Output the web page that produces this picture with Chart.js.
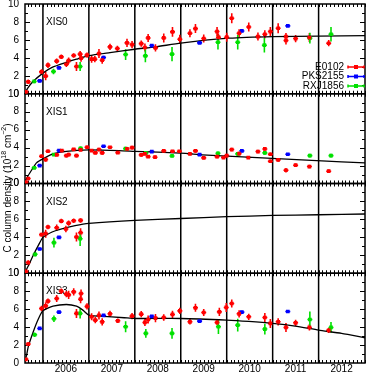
<!DOCTYPE html>
<html><head><meta charset="utf-8">
<script src="https://cdn.jsdelivr.net/npm/chart.js@4/dist/chart.umd.min.js"></script>
<style>html,body{margin:0;padding:0;background:#fff}</style>
</head><body>
<canvas id="c" width="369" height="373"></canvas>
<script>
// ---------- data ----------
const panelNames = ['XIS0', 'XIS1', 'XIS2', 'XIS3'];
const seriesNames = ['E0102', 'PKS2155', 'RXJ1856'];
const seriesColors = ['#ff0000', '#0000ff', '#00e000'];
const yearLabels = ['2006', '2007', '2008', '2009', '2010', '2011', '2012'];
const yearBoundaries = [2006, 2007, 2008, 2009, 2010, 2011, 2012];
const yTicks = [0, 2, 4, 6, 8, 10];
const yTitleParts = ['C column density (10', '18', ' cm', '\u22122', ')'];

// [time (yr), C column density, error]
const E0102_XIS0 = [[2005.63,0.2,0.2],[2005.68,1.33,0.25],[2005.97,2.44,0.3],[2006.06,1.96,0.45],[2006.11,3.18,0.3],[2006.30,3.63,0.3],[2006.40,4.11,0.25],[2006.51,3.29,0.3],[2006.56,3.70,0.35],[2006.67,4.26,0.25],[2006.73,3.04,0.5],[2006.81,4.41,0.35],[2006.83,3.96,0.4],[2006.96,4.30,0.3],[2007.06,3.85,0.4],[2007.13,3.85,0.35],[2007.22,4.48,0.5],[2007.29,3.74,0.4],[2007.46,5.22,0.35],[2007.62,5.04,0.3],[2007.83,5.67,0.45],[2007.94,5.48,0.4],[2008.14,5.59,0.35],[2008.22,5.15,0.45],[2008.29,6.22,0.45],[2008.45,5.11,0.4],[2008.63,6.22,0.5],[2008.82,6.89,0.55],[2008.98,6.07,0.5],[2009.20,6.74,0.45],[2009.32,7.26,0.5],[2009.50,6.15,0.45],[2009.79,6.93,0.5],[2009.82,6.30,0.4],[2010.00,6.30,0.5],[2010.11,8.41,0.55],[2010.27,6.74,0.45],[2010.48,7.44,0.5],[2010.68,6.37,0.45],[2010.83,6.63,0.45],[2010.95,6.93,0.5],[2011.12,7.30,0.55],[2011.29,5.93,0.45],[2011.29,6.37,0.4],[2011.50,6.15,0.4],[2011.80,6.26,0.5],[2012.22,5.63,0.35]];
const PKS2155_XIS0 = [[2005.93,1.44,0.15],[2006.35,2.89,0.15],[2007.32,4.04,0.2],[2008.37,5.37,0.15],[2009.41,5.67,0.12],[2010.33,7.00,0.15],[2011.33,7.56,0.12]];
const RXJ1856_XIS0 = [[2005.81,1.37,0.2],[2006.23,2.48,0.3],[2006.81,3.04,0.5],[2007.80,4.37,0.6],[2008.23,4.22,0.7],[2008.81,4.41,0.8],[2009.81,5.74,0.8],[2010.24,5.74,0.8],[2010.82,5.41,0.8],[2011.81,6.19,0.6],[2012.27,6.63,0.8]];

const E0102_XIS1 = [[2005.63,0.15,0.1],[2005.68,0.56,0.15],[2005.97,3.04,0.2],[2006.06,2.67,0.25],[2006.11,3.59,0.2],[2006.30,3.19,0.15],[2006.41,3.67,0.15],[2006.51,3.11,0.2],[2006.56,3.22,0.2],[2006.67,3.81,0.15],[2006.73,3.11,0.2],[2006.82,3.74,0.15],[2006.96,4.04,0.2],[2007.06,3.67,0.15],[2007.14,3.41,0.15],[2007.22,3.78,0.2],[2007.29,3.41,0.2],[2007.46,4.04,0.15],[2007.63,3.44,0.15],[2007.83,3.85,0.2],[2007.94,4.0,0.2],[2008.14,3.19,0.2],[2008.22,3.30,0.15],[2008.29,3.0,0.15],[2008.44,2.93,0.2],[2008.63,3.63,0.15],[2008.82,3.59,0.15],[2008.97,3.59,0.15],[2009.20,3.30,0.15],[2009.32,3.63,0.2],[2009.50,2.85,0.15],[2009.79,3.0,0.2],[2009.93,2.89,0.15],[2010.00,3.11,0.2],[2010.11,3.78,0.2],[2010.27,3.33,0.2],[2010.47,2.89,0.15],[2010.68,3.56,0.2],[2010.83,3.85,0.2],[2010.95,3.26,0.2],[2010.95,2.48,0.2],[2011.12,2.63,0.2],[2011.29,1.48,0.25],[2011.50,2.04,0.2],[2011.80,1.89,0.2],[2012.22,1.37,0.2]];
const PKS2155_XIS1 = [[2005.93,2.0,0.15],[2006.35,3.67,0.15],[2007.32,4.15,0.15],[2008.37,3.56,0.12],[2009.41,3.22,0.12],[2010.33,3.63,0.15],[2011.33,3.26,0.12]];
const RXJ1856_XIS1 = [[2005.81,1.74,0.15],[2006.24,3.22,0.15],[2006.82,3.93,0.2],[2007.80,3.89,0.2],[2008.24,3.41,0.2],[2008.81,3.07,0.15],[2009.81,3.37,0.2],[2010.24,3.30,0.2],[2010.83,3.41,0.2],[2011.81,3.11,0.2],[2012.27,3.11,0.2]];

const E0102_XIS2 = [[2005.63,0.2,0.2],[2005.68,1.19,0.25],[2005.97,4.30,0.2],[2006.06,4.41,0.45],[2006.11,5.15,0.25],[2006.30,5.07,0.35],[2006.40,5.81,0.25],[2006.50,4.93,0.35],[2006.56,5.59,0.3],[2006.67,5.85,0.25],[2006.73,4.04,0.5],[2006.82,5.89,0.25],[2006.82,4.52,0.5]];
const PKS2155_XIS2 = [[2005.93,2.70,0.15],[2006.35,4.0,0.15]];
const RXJ1856_XIS2 = [[2005.83,2.11,0.25],[2006.24,3.41,0.55],[2006.81,3.85,0.8]];

const E0102_XIS3 = [[2005.63,0.41,0.15],[2005.68,2.11,0.2],[2005.97,6.07,0.3],[2006.06,6.37,0.4],[2006.11,6.89,0.3],[2006.30,7.19,0.4],[2006.40,8.0,0.3],[2006.51,7.67,0.35],[2006.56,7.59,0.45],[2006.67,7.93,0.4],[2006.73,5.52,0.5],[2006.82,7.11,0.45],[2006.83,7.74,0.45],[2006.96,6.30,0.35],[2007.06,5.15,0.4],[2007.14,4.78,0.35],[2007.22,5.30,0.45],[2007.29,4.59,0.4],[2007.46,5.48,0.35],[2007.63,4.70,0.25],[2007.94,5.22,0.35],[2008.14,5.44,0.35],[2008.22,4.52,0.4],[2008.29,4.85,0.45],[2008.45,5.0,0.45],[2008.63,5.07,0.35],[2008.82,5.41,0.4],[2008.98,5.81,0.35],[2009.20,4.59,0.3],[2009.32,6.15,0.45],[2009.50,5.63,0.4],[2009.79,4.52,0.3],[2009.84,5.70,0.45],[2009.99,6.19,0.5],[2010.11,6.63,0.45],[2010.27,5.48,0.4],[2010.48,5.15,0.35],[2010.83,5.07,0.5],[2010.95,4.41,0.5],[2011.12,4.59,0.4],[2011.29,3.96,0.5],[2011.50,4.48,0.35],[2011.80,3.96,0.35],[2012.22,3.63,0.3]];
const PKS2155_XIS3 = [[2005.93,3.85,0.12],[2006.35,5.67,0.15],[2007.32,5.30,0.15],[2008.37,5.19,0.12],[2009.41,4.67,0.12],[2010.33,5.67,0.15],[2011.33,5.74,0.12]];
const RXJ1856_XIS3 = [[2005.82,3.15,0.25],[2006.24,4.93,0.35],[2006.81,5.52,0.55],[2007.80,4.04,0.6],[2008.24,3.30,0.5],[2008.81,3.30,0.6],[2009.82,4.04,0.8],[2010.24,4.22,0.7],[2010.83,3.78,0.6],[2011.81,4.85,0.9],[2012.27,3.96,0.6]];

// model curves [time, value]
const MODEL_XIS0 = [[2005.60,0],[2005.67,0.63],[2005.78,1.33],[2006.0,2.3],[2006.2,2.93],[2006.5,3.48],[2006.73,3.85],[2007.0,4.25],[2007.46,4.59],[2008.0,4.96],[2008.45,5.22],[2009.0,5.65],[2010.05,6.19],[2011.0,6.37],[2012.0,6.41],[2013.01,6.48]];
const MODEL_XIS1 = [[2005.60,0.1],[2005.67,0.8],[2005.78,1.7],[2005.86,2.3],[2006.0,2.74],[2006.22,3.3],[2006.51,3.59],[2007.0,3.74],[2007.66,3.67],[2008.0,3.59],[2009.0,3.38],[2009.47,3.19],[2009.9,3.07],[2010.34,2.96],[2010.77,2.85],[2011.2,2.74],[2011.63,2.63],[2012.07,2.52],[2012.5,2.41],[2013.01,2.30]];
const MODEL_XIS2 = [[2005.60,0],[2005.70,1.0],[2005.79,2.0],[2005.9,3.1],[2006.0,4.0],[2006.2,4.6],[2006.37,4.9],[2006.7,5.3],[2007.0,5.55],[2008.0,5.9],[2009.0,6.1],[2010.0,6.3],[2011.0,6.44],[2012.0,6.52],[2013.01,6.6]];
const MODEL_XIS3 = [[2005.60,0],[2005.65,1.0],[2005.68,1.8],[2005.79,3.48],[2005.9,4.9],[2006.0,5.81],[2006.22,6.33],[2006.51,6.52],[2006.73,6.33],[2006.87,5.89],[2007.0,5.33],[2007.23,5.22],[2007.77,5.04],[2008.0,4.96],[2009.0,4.96],[2010.0,4.78],[2010.48,4.63],[2011.0,4.41],[2011.49,4.11],[2012.0,3.67],[2012.5,3.30],[2013.01,2.81]];

// ---------- build ----------
const panelSeries = [
  [E0102_XIS0, PKS2155_XIS0, RXJ1856_XIS0],
  [E0102_XIS1, PKS2155_XIS1, RXJ1856_XIS1],
  [E0102_XIS2, PKS2155_XIS2, RXJ1856_XIS2],
  [E0102_XIS3, PKS2155_XIS3, RXJ1856_XIS3]
];
const panelModels = [MODEL_XIS0, MODEL_XIS1, MODEL_XIS2, MODEL_XIS3];
const panelIds = ['y0', 'y1', 'y2', 'y3'];
const FONT = "'Liberation Sans', Arial, Helvetica, sans-serif";

const datasets = [];
panelIds.forEach((pid, p) => {
  panelSeries[p].forEach((arr, s) => {
    datasets.push({
      label: seriesNames[s], isSeries: true, yAxisID: pid,
      data: arr.map(([x, y, e]) => ({x, y, e})),
      backgroundColor: seriesColors[s], borderColor: seriesColors[s], borderWidth: 0,
      pointStyle: 'rect', pointRadius: 2.6, showLine: false
    });
  });
  datasets.push({
    label: 'model ' + panelNames[p], yAxisID: pid,
    data: panelModels[p].map(([x, y]) => ({x, y})),
    borderColor: '#000', borderWidth: 1.3, pointRadius: 0, showLine: true, fill: false, tension: 0.2
  });
});

const scales = {
  x: {
    type: 'linear', position: 'bottom', min: 2005.61, max: 2013.01,
    afterBuildTicks: s => { s.ticks = yearBoundaries.map(v => ({value: v + 0.5})); },
    ticks: {callback: (v, i) => yearLabels[i], font: {size: 10, family: FONT}, color: '#000', padding: 0, maxRotation: 0, autoSkip: false},
    grid: {display: false, drawTicks: false}, border: {display: false},
    afterFit: s => { s.height = 10; s.paddingLeft = 0; s.paddingRight = 0; }
  }
};
// stacked left axes: the last declared is placed on top, so declare bottom panel first
panelIds.slice().reverse().forEach(pid => {
  scales[pid] = {
    type: 'linear', position: 'left', stack: 'panels', stackWeight: 1, min: 0, max: 10,
    afterBuildTicks: s => { s.ticks = yTicks.map(v => ({value: v})); },
    ticks: {font: {size: 10, family: FONT}, color: '#000', padding: 6, autoSkip: false},
    grid: {display: false, drawTicks: false}, border: {display: false},
    afterFit: s => { s.width = 25; s.paddingTop = 0; s.paddingBottom = 0; }
  };
});

const decorPlugin = {
  id: 'decor',
  beforeDatasetsDraw(chart) {
    const ctx = chart.ctx, xs = chart.scales.x, ca = chart.chartArea;
    ctx.save();
    ctx.strokeStyle = '#000';
    panelIds.forEach((pid, p) => {
      const ys = chart.scales[pid];
      const top = ys.top, bot = ys.bottom, L = ca.left, R = ca.right;
      ctx.lineWidth = 1;
      ctx.beginPath();
      for (let m = Math.ceil(xs.min * 12); m <= Math.floor(xs.max * 12); m++) {
        const x = Math.round(xs.getPixelForValue(m / 12)) + 0.5;
        ctx.moveTo(x, top); ctx.lineTo(x, top + 3);
        ctx.moveTo(x, bot); ctx.lineTo(x, bot - 3);
      }
      for (let v = 1; v < 10; v++) {
        const y = Math.round(ys.getPixelForValue(v)) + 0.5;
        const len = v % 2 === 0 ? 5 : 3;
        ctx.moveTo(L, y); ctx.lineTo(L + len, y);
        ctx.moveTo(R, y); ctx.lineTo(R - len, y);
      }
      ctx.stroke();
      ctx.lineWidth = 1.5;
      ctx.beginPath();
      yearBoundaries.forEach(yr => {
        const x = xs.getPixelForValue(yr);
        ctx.moveTo(x, top); ctx.lineTo(x, bot);
      });
      ctx.stroke();
      ctx.lineWidth = 1.5;
      ctx.strokeRect(L, top, R - L, bot - top);
      ctx.fillStyle = '#000';
      ctx.font = '10px ' + FONT;
      ctx.textAlign = 'left'; ctx.textBaseline = 'alphabetic';
      ctx.fillText(panelNames[p], 46, top + 21);
    });
    chart.data.datasets.forEach(ds => {
      if (!ds.isSeries) return;
      const ys = chart.scales[ds.yAxisID];
      ctx.save();
      ctx.beginPath();
      ctx.rect(ca.left, ys.top, ca.right - ca.left, ys.bottom - ys.top);
      ctx.clip();
      ctx.strokeStyle = ds.borderColor; ctx.lineWidth = 1.6;
      ctx.beginPath();
      ds.data.forEach(d => {
        const x = xs.getPixelForValue(d.x);
        ctx.moveTo(x, ys.getPixelForValue(d.y - d.e));
        ctx.lineTo(x, ys.getPixelForValue(d.y + d.e));
        ctx.moveTo(x - 2.5, ys.getPixelForValue(d.y));
        ctx.lineTo(x + 2.5, ys.getPixelForValue(d.y));
      });
      ctx.stroke();
      ctx.restore();
    });
    ctx.restore();
  },
  afterDraw(chart) {
    const ctx = chart.ctx;
    const top0 = chart.scales.y0.top;
    ctx.save();
    const ly = [top0 + 63, top0 + 72.5, top0 + 82];
    ctx.font = '10px ' + FONT;
    ctx.textAlign = 'right'; ctx.textBaseline = 'middle';
    seriesNames.forEach((n, s) => {
      ctx.fillStyle = '#000';
      ctx.fillText(n, 344, ly[s]);
      ctx.strokeStyle = seriesColors[s]; ctx.fillStyle = seriesColors[s];
      ctx.lineWidth = 1.5;
      ctx.beginPath();
      ctx.moveTo(348, ly[s]); ctx.lineTo(364, ly[s]);
      ctx.moveTo(348, ly[s] - 1.5); ctx.lineTo(348, ly[s] + 1.5);
      ctx.moveTo(364, ly[s] - 1.5); ctx.lineTo(364, ly[s] + 1.5);
      ctx.stroke();
      ctx.fillRect(354, ly[s] - 2, 4, 4);
    });
    const sizes = [10, 7, 10, 7, 10];
    const offs = [0, -4, 0, -4, 0];
    let total = 0;
    const widths = yTitleParts.map((t, i) => { ctx.font = sizes[i] + 'px ' + FONT; const w = ctx.measureText(t).width; total += w; return w; });
    ctx.translate(8, 188);
    ctx.rotate(-Math.PI / 2);
    ctx.textAlign = 'left'; ctx.textBaseline = 'middle'; ctx.fillStyle = '#000';
    let x = -total / 2;
    yTitleParts.forEach((t, i) => {
      ctx.font = sizes[i] + 'px ' + FONT;
      ctx.fillText(t, x, offs[i]);
      x += widths[i];
    });
    ctx.restore();
  }
};

new Chart(document.getElementById('c'), {
  type: 'scatter',
  data: {datasets},
  options: {
    responsive: false, animation: false, events: [],
    layout: {padding: {top: 3, right: 1, left: 0, bottom: 0}},
    scales,
    plugins: {legend: {display: false}, tooltip: {enabled: false}}
  },
  plugins: [decorPlugin]
});
</script>
</body></html>
